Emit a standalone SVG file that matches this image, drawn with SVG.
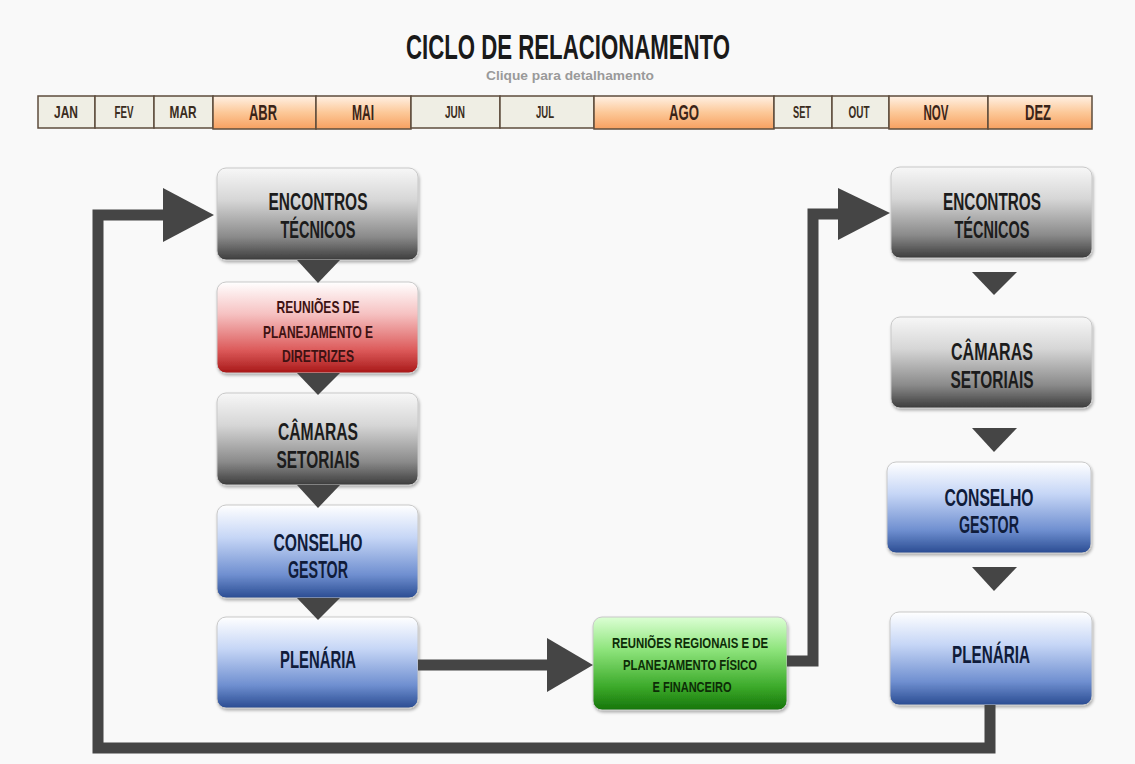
<svg xmlns="http://www.w3.org/2000/svg" width="1135" height="764" viewBox="0 0 1135 764">
<defs>
<linearGradient id="gGray" x1="0" y1="0" x2="0" y2="1">
<stop offset="0" stop-color="#f7f7f7"/><stop offset="0.35" stop-color="#d6d6d6"/><stop offset="0.75" stop-color="#8a8a8a"/><stop offset="1" stop-color="#3c3c3c"/>
</linearGradient>
<linearGradient id="gRed" x1="0" y1="0" x2="0" y2="1">
<stop offset="0" stop-color="#ffffff"/><stop offset="0.35" stop-color="#f6c2c2"/><stop offset="0.75" stop-color="#dc5a5a"/><stop offset="1" stop-color="#a81818"/>
</linearGradient>
<linearGradient id="gBlue" x1="0" y1="0" x2="0" y2="1">
<stop offset="0" stop-color="#ffffff"/><stop offset="0.35" stop-color="#c6d6f6"/><stop offset="0.75" stop-color="#6f8fd0"/><stop offset="1" stop-color="#2a4c92"/>
</linearGradient>
<linearGradient id="gGreen" x1="0" y1="0" x2="0" y2="1">
<stop offset="0" stop-color="#dcffd4"/><stop offset="0.35" stop-color="#8ee47c"/><stop offset="0.75" stop-color="#3caa2a"/><stop offset="1" stop-color="#16750a"/>
</linearGradient>
<linearGradient id="gOrange" x1="0" y1="0" x2="0" y2="1">
<stop offset="0" stop-color="#fff1e4"/><stop offset="0.5" stop-color="#fcc898"/><stop offset="1" stop-color="#f7a060"/>
</linearGradient>
<filter id="sh" x="-10%" y="-10%" width="120%" height="130%">
<feDropShadow dx="1" dy="2" stdDeviation="1.5" flood-color="#000" flood-opacity="0.3"/>
</filter>
<style>
.box{stroke:#c8c8c8;stroke-width:1;filter:url(#sh)}
.t{font-family:"Liberation Sans",Arial,sans-serif;font-weight:bold;text-anchor:middle}
.big{font-size:24px}
.dk{fill:#1c1c1c}
.bl{fill:#101c3a}
.rd{fill:#3e1212;font-size:17px}
.gr{fill:#0d2c07;font-size:14px}
.cell{fill:#efeee4;stroke:#5d4c3d;stroke-width:1.5}
.hcell{fill:url(#gOrange);stroke:#5d4c3d;stroke-width:1.5}
.m{font-size:17px;fill:#3a2c20}
.mh{font-size:22px;fill:#3a2418}
.conn{fill:none;stroke:#454545;stroke-width:11;stroke-linejoin:miter;stroke-linecap:butt}
.ah{fill:#454545}
</style>
</defs>
<rect x="0" y="0" width="1135" height="764" fill="#f9f9f9"/>

<g id="title">
<text class="t" x="568" y="59" font-size="35" fill="#1a1a1a" textLength="324" lengthAdjust="spacingAndGlyphs">CICLO DE RELACIONAMENTO</text>
<text class="t" x="570" y="80" font-size="13" fill="#9a9a9a" textLength="168" lengthAdjust="spacingAndGlyphs">Clique para detalhamento</text>
</g>

<g id="months">
<rect class="cell" x="38" y="96" width="57" height="32"/>
<rect class="cell" x="95" y="96" width="59" height="32"/>
<rect class="cell" x="154" y="96" width="59" height="32"/>
<rect class="hcell" x="213" y="96" width="103" height="33"/>
<rect class="hcell" x="316" y="96" width="95" height="33"/>
<rect class="cell" x="411" y="96" width="89" height="32"/>
<rect class="cell" x="500" y="96" width="94" height="32"/>
<rect class="hcell" x="594" y="96" width="180" height="33"/>
<rect class="cell" x="774" y="96" width="58" height="32"/>
<rect class="cell" x="832" y="96" width="57" height="32"/>
<rect class="hcell" x="889" y="96" width="99" height="33"/>
<rect class="hcell" x="988" y="96" width="104" height="33"/>
<text class="t m" x="66" y="118" textLength="24" lengthAdjust="spacingAndGlyphs">JAN</text>
<text class="t m" x="124" y="118" textLength="19" lengthAdjust="spacingAndGlyphs">FEV</text>
<text class="t m" x="183" y="118" textLength="27" lengthAdjust="spacingAndGlyphs">MAR</text>
<text class="t mh" x="263" y="120" textLength="28" lengthAdjust="spacingAndGlyphs">ABR</text>
<text class="t mh" x="363" y="120" textLength="22" lengthAdjust="spacingAndGlyphs">MAI</text>
<text class="t m" x="455" y="118" textLength="20" lengthAdjust="spacingAndGlyphs">JUN</text>
<text class="t m" x="545" y="118" textLength="18" lengthAdjust="spacingAndGlyphs">JUL</text>
<text class="t mh" x="684" y="120" textLength="30" lengthAdjust="spacingAndGlyphs">AGO</text>
<text class="t m" x="802" y="118" textLength="18" lengthAdjust="spacingAndGlyphs">SET</text>
<text class="t m" x="859" y="118" textLength="21" lengthAdjust="spacingAndGlyphs">OUT</text>
<text class="t mh" x="936" y="120" textLength="25" lengthAdjust="spacingAndGlyphs">NOV</text>
<text class="t mh" x="1038" y="120" textLength="26" lengthAdjust="spacingAndGlyphs">DEZ</text>
</g>

<g id="n1-encontros">
<rect class="box" x="217" y="168" width="201" height="92" rx="9" fill="url(#gGray)"/>
<text class="t big dk" x="318" y="210" textLength="99" lengthAdjust="spacingAndGlyphs">ENCONTROS</text>
<text class="t big dk" x="318" y="238" textLength="75" lengthAdjust="spacingAndGlyphs">TÉCNICOS</text>
</g>
<g id="n2-reunioes">
<rect class="box" x="217" y="282" width="201" height="91" rx="9" fill="url(#gRed)"/>
<text class="t rd" x="318" y="313" textLength="83" lengthAdjust="spacingAndGlyphs">REUNIÕES DE</text>
<text class="t rd" x="318" y="338" textLength="110" lengthAdjust="spacingAndGlyphs">PLANEJAMENTO E</text>
<text class="t rd" x="318" y="362" textLength="72" lengthAdjust="spacingAndGlyphs">DIRETRIZES</text>
</g>
<g id="n3-camaras">
<rect class="box" x="217" y="393" width="201" height="92" rx="9" fill="url(#gGray)"/>
<text class="t big dk" x="318" y="440" textLength="80" lengthAdjust="spacingAndGlyphs">CÂMARAS</text>
<text class="t big dk" x="318" y="468" textLength="83" lengthAdjust="spacingAndGlyphs">SETORIAIS</text>
</g>
<g id="n4-conselho">
<rect class="box" x="217" y="505" width="201" height="93" rx="9" fill="url(#gBlue)"/>
<text class="t big bl" x="318" y="551" textLength="89" lengthAdjust="spacingAndGlyphs">CONSELHO</text>
<text class="t big bl" x="318" y="578" textLength="60" lengthAdjust="spacingAndGlyphs">GESTOR</text>
</g>
<g id="n5-plenaria">
<rect class="box" x="217" y="617" width="201" height="91" rx="9" fill="url(#gBlue)"/>
<text class="t big bl" x="318" y="668" textLength="76" lengthAdjust="spacingAndGlyphs">PLENÁRIA</text>
</g>
<g id="n6-regionais">
<rect class="box" x="593" y="617" width="194" height="93" rx="9" fill="url(#gGreen)"/>
<text class="t gr" x="690" y="648" textLength="156" lengthAdjust="spacingAndGlyphs">REUNIÕES REGIONAIS  E  DE</text>
<text class="t gr" x="690" y="670" textLength="134" lengthAdjust="spacingAndGlyphs">PLANEJAMENTO FÍSICO</text>
<text class="t gr" x="692" y="692" textLength="79" lengthAdjust="spacingAndGlyphs">E  FINANCEIRO</text>
</g>
<g id="n7-encontros-2">
<rect class="box" x="891" y="167" width="201" height="91" rx="9" fill="url(#gGray)"/>
<text class="t big dk" x="992" y="210" textLength="98" lengthAdjust="spacingAndGlyphs">ENCONTROS</text>
<text class="t big dk" x="992" y="238" textLength="75" lengthAdjust="spacingAndGlyphs">TÉCNICOS</text>
</g>
<g id="n8-camaras-2">
<rect class="box" x="891" y="317" width="201" height="91" rx="9" fill="url(#gGray)"/>
<text class="t big dk" x="992" y="360" textLength="82" lengthAdjust="spacingAndGlyphs">CÂMARAS</text>
<text class="t big dk" x="992" y="388" textLength="83" lengthAdjust="spacingAndGlyphs">SETORIAIS</text>
</g>
<g id="n9-conselho-2">
<rect class="box" x="887" y="462" width="204" height="91" rx="9" fill="url(#gBlue)"/>
<text class="t big bl" x="989" y="506" textLength="89" lengthAdjust="spacingAndGlyphs">CONSELHO</text>
<text class="t big bl" x="989" y="533" textLength="60" lengthAdjust="spacingAndGlyphs">GESTOR</text>
</g>
<g id="n10-plenaria-2">
<rect class="box" x="890" y="612" width="202" height="93" rx="9" fill="url(#gBlue)"/>
<text class="t big bl" x="991" y="663" textLength="78" lengthAdjust="spacingAndGlyphs">PLENÁRIA</text>
</g>

<g id="connectors">
<path class="conn" d="M990 705 V748 H98 V215 H168"/>
<polygon class="ah" points="163,188 214,215 163,242"/>
<path class="conn" d="M418 665 H550"/>
<polygon class="ah" points="547,638 593,665 547,692"/>
<path class="conn" d="M787 661 H813 V214 H840"/>
<polygon class="ah" points="838,188 890,213 838,240"/>
<polygon class="ah" points="297,260 340,260 318,283"/>
<polygon class="ah" points="297,373 340,373 318,395"/>
<polygon class="ah" points="297,485 340,485 318,508"/>
<polygon class="ah" points="297,598 340,598 318,620"/>
<polygon class="ah" points="972,272 1017,272 994,295"/>
<polygon class="ah" points="972,428 1017,428 994,452"/>
<polygon class="ah" points="972,567 1017,567 994,591"/>
</g>
</svg>
